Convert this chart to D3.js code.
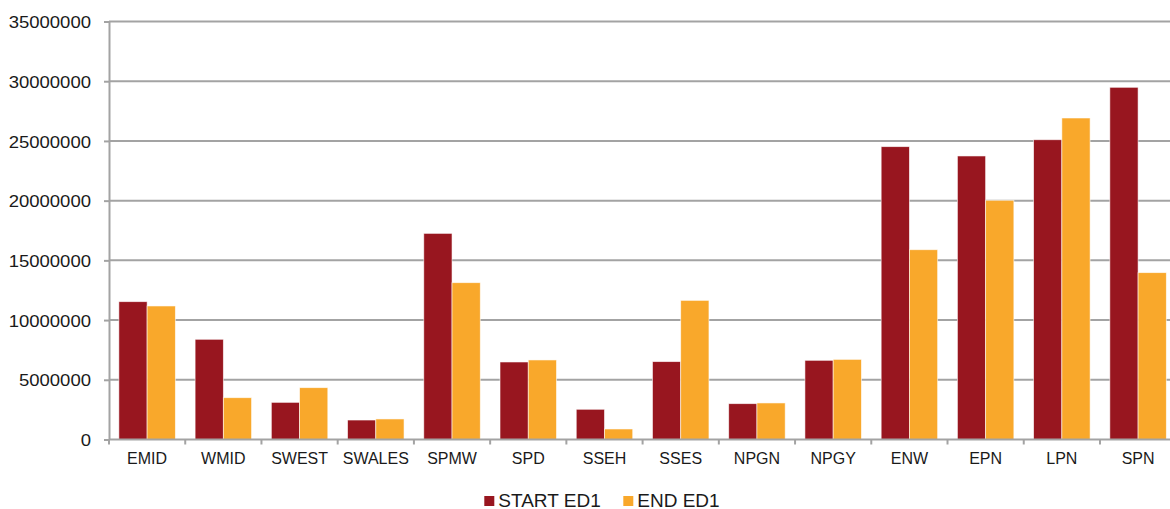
<!DOCTYPE html>
<html>
<head>
<meta charset="utf-8">
<script src="https://cdn.jsdelivr.net/npm/d3@7/dist/d3.min.js"></script>
<style>
  html, body { margin: 0; padding: 0; background: #fff; }
  svg { display: block; font-family: "Liberation Sans", Arial, sans-serif; }
</style>
</head>
<body>
<svg id="chart" width="1170" height="509"></svg>
<script>
// Network areas
const categories = ["EMID", "WMID", "SWEST", "SWALES", "SPMW", "SPD", "SSEH", "SSES", "NPGN", "NPGY", "ENW", "EPN", "LPN", "SPN"];
const seriesNames = ["START ED1", "END ED1"];
const startED1 = [11540000, 8390000, 3110000, 1630000, 17260000, 6490000, 2530000, 6520000, 3000000, 6630000, 24520000, 23740000, 25100000, 29490000];
const endED1   = [11180000, 3500000, 4340000, 1720000, 13130000, 6660000, 880000, 11650000, 3060000, 6710000, 15890000, 20030000, 26920000, 13970000];
const yTicks = [0, 5000000, 10000000, 15000000, 20000000, 25000000, 30000000, 35000000];
const colors = ["#98161f", "#f9a82b"];

const svg = d3.select("#chart");
const plotLeft = 109, plotRight = 1176.2, plotTop = 21.5, plotBottom = 439.5;

const x = d3.scaleBand().domain(categories).range([plotLeft, plotRight]).padding(0);
const bw = x.bandwidth();
const gap = bw * 0.259;
const xs = d3.scaleBand().domain(seriesNames).range([gap / 2, bw - gap / 2]).padding(0);
const y = d3.scaleLinear().domain([0, 35000000]).range([plotBottom, plotTop]);

// Horizontal gridlines
svg.append("g")
  .selectAll("line")
  .data(yTicks.slice(1))
  .join("line")
  .attr("x1", plotLeft).attr("x2", 1170)
  .attr("y1", d => y(d)).attr("y2", d => y(d))
  .attr("stroke", "#a3a3a3").attr("stroke-width", 2);

// Bars
const rows = categories.map((c, i) => ({ cat: c, vals: [startED1[i], endED1[i]] }));
svg.append("g")
  .selectAll("g")
  .data(rows)
  .join("g")
  .attr("transform", d => `translate(${x(d.cat)},0)`)
  .selectAll("rect")
  .data(d => d.vals.map((v, k) => ({ v, k })))
  .join("rect")
  .attr("x", d => xs(seriesNames[d.k]))
  .attr("width", xs.bandwidth())
  .attr("y", d => y(d.v))
  .attr("height", d => y(0) - y(d.v))
  .attr("fill", d => colors[d.k])
  .attr("stroke", "#ffffff")
  .attr("stroke-opacity", 0.7)
  .attr("stroke-width", 0.8);

// Y axis
const yAxis = svg.append("g")
  .attr("transform", `translate(${plotLeft},0)`)
  .call(d3.axisLeft(y).tickValues(yTicks).tickFormat(d3.format("d")).tickSize(5).tickSizeOuter(0));
yAxis.select(".domain").attr("stroke", "#a3a3a3").attr("stroke-width", 2);
yAxis.selectAll(".tick line").attr("stroke", "#a3a3a3").attr("stroke-width", 2);
yAxis.selectAll(".tick text")
  .attr("x", 0)
  .attr("transform", "translate(-18,0) scale(1.09,1)")
  .attr("dy", "0.36em")
  .attr("fill", "#1a1a1a")
  .style("font-size", "17px")
  .style("font-family", "'Liberation Sans', Arial, sans-serif");

// X axis
const xAxis = svg.append("g")
  .attr("transform", `translate(0,${plotBottom})`)
  .call(d3.axisBottom(x).tickSize(0).tickSizeOuter(0));
xAxis.select(".domain").attr("stroke", "#a3a3a3").attr("stroke-width", 2).attr("d", `M${plotLeft},0H1170`);
xAxis.selectAll(".tick text")
  .attr("y", 24.5)
  .attr("dy", 0)
  .attr("fill", "#1a1a1a")
  .style("font-size", "16px")
  .style("font-family", "'Liberation Sans', Arial, sans-serif");

// Category separators on the x axis
svg.append("g")
  .selectAll("line")
  .data(categories)
  .join("line")
  .attr("x1", d => x(d)).attr("x2", d => x(d))
  .attr("y1", plotBottom).attr("y2", plotBottom + 5)
  .attr("stroke", "#a3a3a3").attr("stroke-width", 2);

// Legend
const legendX = [484.3, 623.3];
const legend = svg.append("g");
seriesNames.forEach((name, k) => {
  legend.append("rect")
    .attr("x", legendX[k]).attr("y", 496)
    .attr("width", 10).attr("height", 10)
    .attr("fill", colors[k]);
  legend.append("text")
    .attr("x", legendX[k] + 14).attr("y", 506.5)
    .attr("fill", "#1a1a1a")
    .style("font-size", "19px")
    .text(name);
});
</script>
</body>
</html>
